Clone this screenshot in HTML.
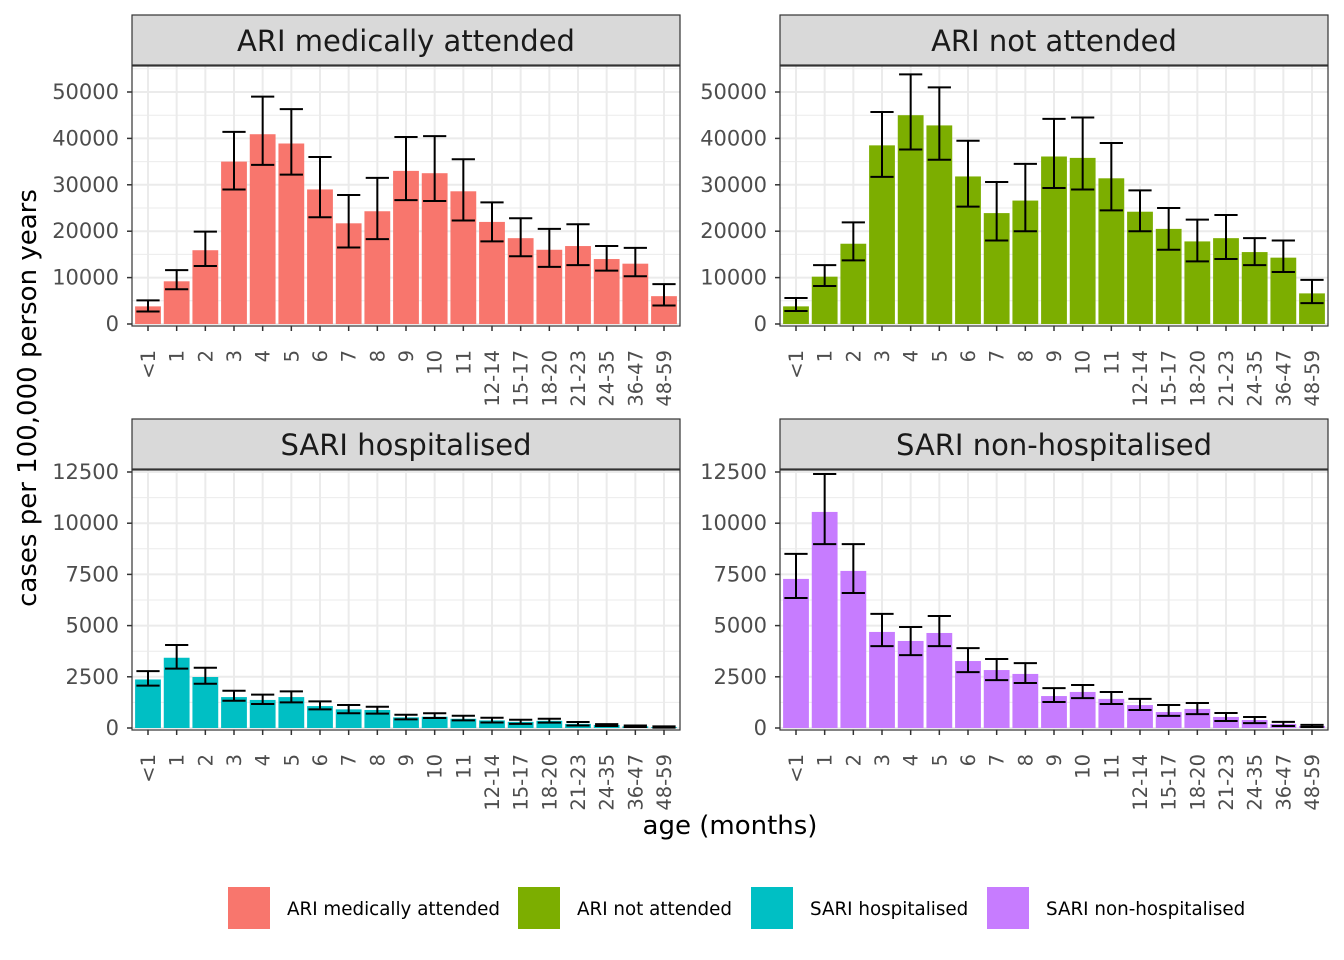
<!DOCTYPE html>
<html><head><meta charset="utf-8"><style>
body{margin:0;background:#fff;}
svg{display:block;font-family:"DejaVu Sans","Liberation Sans",sans-serif;}
</style></head><body>
<svg id="chart" width="1344" height="960"></svg>
<script>
const categories=["<1","1","2","3","4","5","6","7","8","9","10","11","12-14","15-17","18-20","21-23","24-35","36-47","48-59"];
const ariMedVals=[3800,9200,15900,35000,40900,38900,29000,21700,24300,33000,32500,28600,22000,18500,16000,16800,14000,13000,6000];
const ariMedLow=[2700,7500,12500,29000,34300,32200,23000,16500,18300,26700,26500,22300,17800,14600,12300,12700,11500,10300,4000];
const ariMedHigh=[5100,11600,19900,41400,49000,46300,36000,27800,31500,40300,40500,35500,26200,22800,20500,21500,16800,16400,8600];
const ariNotVals=[3800,10200,17300,38500,45000,42800,31800,23900,26600,36100,35800,31400,24200,20500,17800,18500,15500,14300,6600];
const ariNotLow=[2800,8200,13700,31700,37600,35400,25300,18000,20000,29300,29000,24500,20000,16000,13500,14000,12700,11200,4500];
const ariNotHigh=[5600,12700,21900,45700,53800,51000,39500,30600,34500,44200,44500,39000,28800,25000,22500,23500,18500,18000,9500];
const sariHospVals=[2370,3430,2490,1510,1370,1510,1070,910,880,520,550,450,370,300,350,200,150,80,40];
const sariHospLow=[2070,2900,2160,1330,1170,1250,910,720,700,420,490,370,270,200,260,120,100,50,20];
const sariHospHigh=[2780,4050,2940,1820,1630,1790,1300,1120,1040,650,720,600,500,400,450,290,190,120,80];
const sariNonVals=[7280,10550,7670,4690,4250,4640,3270,2830,2640,1560,1760,1420,1120,780,930,540,390,200,100];
const sariNonLow=[6350,8980,6590,4000,3560,4000,2730,2340,2200,1270,1460,1170,880,590,680,340,240,100,50];
const sariNonHigh=[8500,12400,8980,5570,4930,5470,3900,3370,3170,1950,2100,1760,1420,1120,1220,730,540,300,150];
const topTicks=[0,10000,20000,30000,40000,50000];
const bottomTicks=[0,2500,5000,7500,10000,12500];
const legendLabels=["ARI medically attended","ARI not attended","SARI hospitalised","SARI non-hospitalised"];

const NS="http://www.w3.org/2000/svg";
const svg=document.getElementById('chart');
function mk(tag,attrs,parent){const e=document.createElementNS(NS,tag);for(const k in attrs)e.setAttribute(k,attrs[k]);(parent||svg).appendChild(e);return e;}

const panels=[
 {title:"ARI medically attended",x0:132,x1:680,top:66,bot:326,zeroY:324,maxTick:50000,maxY:92,vals:ariMedVals,lo:ariMedLow,hi:ariMedHigh,ticks:topTicks,color:"#F8766D",key:"ari-medically-attended"},
 {title:"ARI not attended",x0:780,x1:1328,top:66,bot:326,zeroY:324,maxTick:50000,maxY:92,vals:ariNotVals,lo:ariNotLow,hi:ariNotHigh,ticks:topTicks,color:"#7CAE00",key:"ari-not-attended"},
 {title:"SARI hospitalised",x0:132,x1:680,top:470,bot:730,zeroY:728,maxTick:12500,maxY:472,vals:sariHospVals,lo:sariHospLow,hi:sariHospHigh,ticks:bottomTicks,color:"#00BFC4",key:"sari-hospitalised"},
 {title:"SARI non-hospitalised",x0:780,x1:1328,top:470,bot:730,zeroY:728,maxTick:12500,maxY:472,vals:sariNonVals,lo:sariNonLow,hi:sariNonHigh,ticks:bottomTicks,color:"#C77CFF",key:"sari-non-hospitalised"}
];

panels.forEach(p=>{
  const g=mk('g',{});
  
  
  const step=(p.x1-p.x0-32)/(categories.length-1);
  const xs=i=>p.x0+16+i*step;
  const ys=v=>p.zeroY-(v/p.maxTick)*(p.zeroY-p.maxY);
  const bw=step*0.9;
  const strip=mk('rect',{x:p.x0,y:p.top-51,width:p.x1-p.x0,height:50,fill:"#d9d9d9",stroke:"#333","stroke-width":1.2},g);
  
  
  const st=mk('text',{x:(p.x0+p.x1)/2,y:p.top-15,"text-anchor":"middle","font-size":29,fill:"#1a1a1a"},g);
  st.textContent=p.title;
  
  
  const tstep=p.ticks[1]-p.ticks[0];
  for(let i=0;i<p.ticks.length;i++){
    const mv=p.ticks[i]+tstep/2;const yy=ys(mv);
    if(yy>p.top) mk('line',{x1:p.x0,x2:p.x1,y1:yy,y2:yy,stroke:"#ebebeb","stroke-width":1},g);
  }
  p.ticks.forEach(t=>{const yy=ys(t);mk('line',{x1:p.x0,x2:p.x1,y1:yy,y2:yy,stroke:"#ebebeb","stroke-width":2},g);});
  categories.forEach((c,i)=>{mk('line',{x1:xs(i),x2:xs(i),y1:p.top,y2:p.bot,stroke:"#ebebeb","stroke-width":2},g);});
  categories.forEach((c,i)=>{
    const b=mk('rect',{x:xs(i)-bw/2,y:ys(p.vals[i]),width:bw,height:ys(0)-ys(p.vals[i]),fill:p.color},g);
    
    
    const e=mk('path',{d:`M${xs(i)-bw*0.45},${ys(p.hi[i])}H${xs(i)+bw*0.45}M${xs(i)},${ys(p.hi[i])}V${ys(p.lo[i])}M${xs(i)-bw*0.45},${ys(p.lo[i])}H${xs(i)+bw*0.45}`,stroke:"#000","stroke-width":2,fill:"none"},g);
    
    
  });
  const border=mk('rect',{x:p.x0,y:p.top,width:p.x1-p.x0,height:p.bot-p.top,fill:"none",stroke:"#333","stroke-width":1.2},g);
  
  
  p.ticks.forEach(t=>{
    const yy=ys(t);
    mk('line',{x1:p.x0-5,x2:p.x0,y1:yy,y2:yy,stroke:"#333","stroke-width":1.5},g);
    const tl=mk('text',{x:p.x0-13,y:yy+7,"text-anchor":"end","font-size":21,fill:"#4d4d4d"},g);
    tl.textContent=t;
    
    
  });
  categories.forEach((c,i)=>{
    mk('line',{x1:xs(i),x2:xs(i),y1:p.bot,y2:p.bot+5,stroke:"#333","stroke-width":1.5},g);
    const tx=mk('text',{x:0,y:0,"text-anchor":"end","font-size":19.5,fill:"#4d4d4d",transform:`translate(${xs(i)+7},${p.bot+24}) rotate(-90)`},g);
    tx.textContent=c;
    
    
  });
});
const xt=mk('text',{x:730,y:834,"text-anchor":"middle","font-size":26,fill:"#000"});
xt.textContent="age (months)";


const yt=mk('text',{x:0,y:0,"text-anchor":"middle","font-size":26,fill:"#000",transform:"translate(36,398) rotate(-90)"});
yt.textContent="cases per 100,000 person years";


const legX=[228,518,751,987];
const legCols=["#F8766D","#7CAE00","#00BFC4","#C77CFF"];
legendLabels.forEach((l,i)=>{
  const lg=mk('g',{});
  
  
  mk('rect',{x:legX[i],y:887,width:42,height:42,fill:legCols[i]},lg);
  const t=mk('text',{x:legX[i]+59,y:915,"font-size":18.3,fill:"#000"},lg);
  t.textContent=l;
});
</script>
</body></html>
